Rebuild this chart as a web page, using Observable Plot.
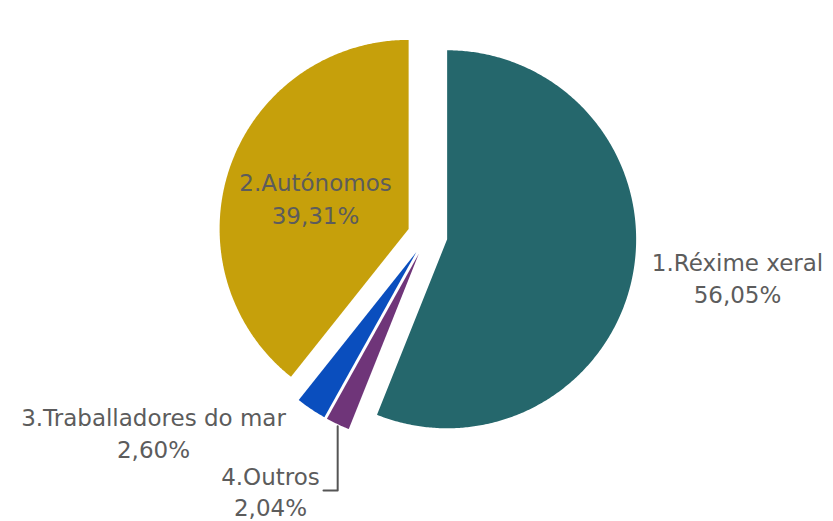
<!DOCTYPE html>
<html>
<head>
<meta charset="utf-8">
<script src="https://cdn.jsdelivr.net/npm/d3@7"></script>
<script src="https://cdn.jsdelivr.net/npm/@observablehq/plot@0.6"></script>
<style>
  html, body { margin: 0; padding: 0; background: #ffffff; }
  #chart svg { display: block; }
</style>
</head>
<body>
<div id="chart"></div>
<script>
// ---- data (clockwise from 12 o'clock, as drawn) ----
const categories  = ["1.Réxime xeral", "4.Outros", "3.Traballadores do mar", "2.Autónomos"];
const shares      = [56.05, 2.04, 2.60, 39.31];
const shareLabels = ["56,05%", "2,04%", "2,60%", "39,31%"];
const colors      = ["#25676C", "#6F3579", "#0A4EBE", "#C6A00B"];

// ---- layout ----
const W = 833, H = 521;
const CX = 427, CY = 235, R = 189, EXPLODE = 20;
// label anchors (pixel position of the last text line's baseline centre)
const labelAnchorPx = {
  "1.Réxime xeral":         [737, 302],
  "2.Autónomos":            [315, 223],
  "3.Traballadores do mar": [153, 457],
  "4.Outros":               [270, 515]
};
const labelLineHeight = {
  "1.Réxime xeral": 1.39,
  "2.Autónomos": 1.42,
  "3.Traballadores do mar": 1.38,
  "4.Outros": 1.33
};
const leaderElbowY = 490, leaderEndX = 323; // for "4.Outros"

const toUX = px => (px - CX) / R;
const toUY = py => (py - CY) / R;

const pie = d3.pie().sort(null).value(d => d.share).startAngle(0).endAngle(2 * Math.PI);
const rows = categories.map((c, i) => ({cat: c, share: shares[i], label: shareLabels[i]}));
const arcs = pie(rows);

const e = EXPLODE / R;
const slicePts = [];
const outerMid = {};
arcs.forEach(a => {
  const mid = (a.startAngle + a.endAngle) / 2;
  const ox = e * Math.sin(mid), oy = -e * Math.cos(mid);
  slicePts.push({cat: a.data.cat, x: ox, y: oy});
  const n = Math.max(4, Math.ceil((a.endAngle - a.startAngle) / (Math.PI / 360)));
  for (let k = 0; k <= n; k++) {
    const t = a.startAngle + (a.endAngle - a.startAngle) * k / n;
    slicePts.push({cat: a.data.cat, x: ox + Math.sin(t), y: oy - Math.cos(t)});
  }
  outerMid[a.data.cat] = {x: ox + Math.sin(mid), y: oy - Math.cos(mid)};
});

const labelMarks = rows.map(r => Plot.text([{
    x: toUX(labelAnchorPx[r.cat][0]),
    y: toUY(labelAnchorPx[r.cat][1]),
    text: r.cat + "\n" + r.label
  }], {
    x: "x", y: "y", text: "text",
    fontSize: 23, fontFamily: "DejaVu Sans", fill: "#5c5c5c",
    textAnchor: "middle", lineAnchor: "bottom", lineHeight: labelLineHeight[r.cat]
  }));

const om = outerMid["4.Outros"];
const leader = [
  {x: om.x, y: om.y + 2 / R},
  {x: om.x, y: toUY(leaderElbowY)},
  {x: toUX(leaderEndX), y: toUY(leaderElbowY)}
];

const chart = Plot.plot({
  width: W,
  height: H,
  margin: 0,
  style: {background: "#ffffff", fontFamily: "DejaVu Sans"},
  x: {domain: [toUX(0), toUX(W)], range: [0, W], axis: null},
  y: {domain: [toUY(0), toUY(H)], range: [0, H], axis: null},
  color: {domain: categories, range: colors},
  marks: [
    Plot.line(slicePts, {x: "x", y: "y", z: "cat", fill: "cat", stroke: "none", curve: "linear-closed"}),
    Plot.line(leader, {x: "x", y: "y", stroke: "#555555", strokeWidth: 2}),
    ...labelMarks
  ]
});
document.getElementById("chart").appendChild(chart);
</script>
</body>
</html>
